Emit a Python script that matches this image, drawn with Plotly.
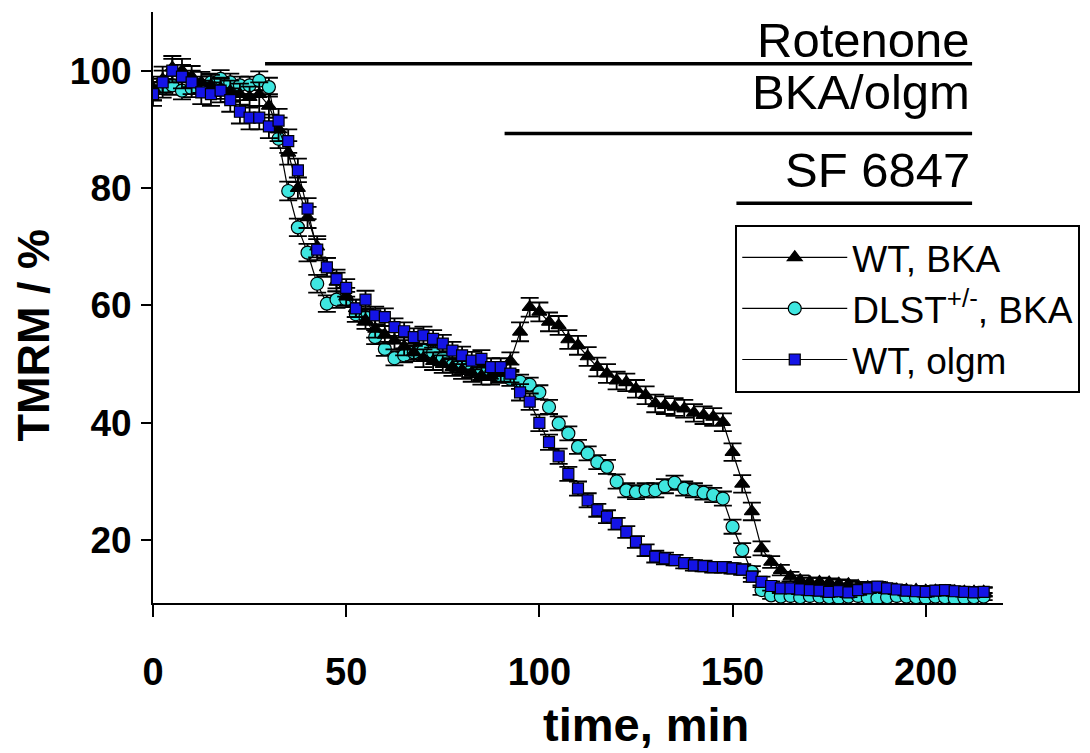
import plotly.graph_objects as go

# ---------------- data ----------------
time_min = [
    0.0, 2.5, 5.0, 7.5, 10.0, 12.5, 15.0, 17.5, 20.0, 22.5,
    25.0, 27.5, 30.0, 32.5, 35.0, 37.5, 40.0, 42.5, 45.0, 47.5,
    50.0, 52.5, 55.0, 57.5, 60.0, 62.5, 65.0, 67.5, 70.0, 72.5,
    75.0, 77.5, 80.0, 82.5, 85.0, 87.5, 90.0, 92.5, 95.0, 97.5,
    100.0, 102.5, 105.0, 107.5, 110.0, 112.5, 115.0, 117.5, 120.0, 122.5,
    125.0, 127.5, 130.0, 132.5, 135.0, 137.5, 140.0, 142.5, 145.0, 147.5,
    150.0, 152.5, 155.0, 157.5, 160.0, 162.5, 165.0, 167.5, 170.0, 172.5,
    175.0, 177.5, 180.0, 182.5, 185.0, 187.5, 190.0, 192.5, 195.0, 197.5,
    200.0, 202.5, 205.0, 207.5, 210.0, 212.5, 215.0,
]

wt_bka = [
    97.0, 98.5, 100.5, 100.0, 99.0, 98.0, 97.5, 97.0, 96.5, 96.0,
    95.5, 96.0, 94.0, 90.0, 86.0, 80.0, 75.0, 70.0, 66.5, 64.0,
    61.5, 59.5, 57.5, 56.0, 55.0, 54.0, 53.0, 52.0, 51.0, 50.5,
    50.0, 49.5, 49.0, 48.5, 48.0, 48.0, 48.5, 50.5, 55.5, 59.7,
    58.9, 57.2, 56.6, 54.2, 53.2, 51.3, 49.5, 48.4, 47.2, 46.9,
    45.8, 44.7, 43.3, 43.0, 42.7, 42.4, 41.7, 41.3, 41.0, 40.1,
    35.0, 29.6, 24.9, 18.6, 16.3, 14.9, 13.8, 13.2, 12.9, 12.9,
    12.8, 12.6, 12.5, 12.2, 12.0, 11.8, 11.8, 11.6, 11.5, 11.5,
    11.4, 11.4, 11.3, 11.3, 11.2, 11.2, 11.2,
]
wt_bka_err = [
    2.0, 2.2, 2.0, 2.0, 1.8, 1.8, 1.8, 1.8, 1.8, 1.8,
    1.8, 2.0, 2.0, 2.0, 2.0, 1.8, 1.8, 1.8, 1.6, 1.6,
    1.5, 1.5, 1.5, 1.5, 1.5, 1.5, 1.5, 1.5, 1.5, 1.5,
    1.5, 1.5, 1.5, 1.5, 1.5, 1.5, 1.5, 1.5, 1.6, 1.6,
    1.6, 1.6, 1.6, 1.6, 1.6, 1.6, 1.6, 1.6, 1.5, 1.5,
    1.5, 1.5, 1.5, 1.5, 1.5, 1.5, 1.5, 1.5, 1.5, 1.5,
    1.5, 1.5, 1.5, 1.2, 1.0, 0.9, 0.8, 0.8, 0.7, 0.7,
    0.7, 0.7, 0.7, 0.7, 0.7, 0.7, 0.7, 0.7, 0.7, 0.7,
    0.7, 0.7, 0.7, 0.7, 0.7, 0.7, 0.7,
]

dlst_bka = [
    96.5, 97.0, 97.5, 96.6, 97.0, 97.5, 98.0, 98.6, 98.0, 97.5,
    97.5, 98.3, 97.2, 88.4, 79.5, 73.3, 69.0, 63.7, 60.3, 61.0,
    61.0, 58.5, 58.0, 54.6, 52.6, 51.0, 51.5, 52.0, 52.3, 52.0,
    51.0, 49.8, 49.5, 49.0, 48.5, 48.5, 48.0, 47.5, 47.0, 46.5,
    45.2, 42.7, 39.9, 38.2, 35.9, 34.8, 33.3, 32.5, 30.0, 28.5,
    28.2, 28.5, 28.5, 29.2, 29.8, 28.8, 28.5, 28.1, 27.7, 27.1,
    22.3, 18.3, 14.6, 11.5, 10.6, 10.4, 10.5, 10.3, 10.5, 10.4,
    10.3, 10.2, 10.4, 10.5, 10.2, 10.1, 10.3, 10.5, 10.4, 10.3,
    10.2, 10.4, 10.3, 10.1, 10.2, 10.3, 10.4,
]
dlst_bka_err = [
    1.6, 1.6, 1.6, 1.5, 1.5, 1.5, 1.5, 1.5, 1.5, 1.5,
    1.5, 1.6, 1.6, 1.6, 1.6, 1.5, 1.5, 1.5, 1.4, 1.4,
    1.3, 1.3, 1.3, 1.2, 1.2, 1.2, 1.2, 1.2, 1.2, 1.2,
    1.2, 1.2, 1.2, 1.2, 1.2, 1.2, 1.2, 1.2, 1.2, 1.2,
    1.2, 1.2, 1.2, 1.2, 1.2, 1.2, 1.2, 1.2, 1.2, 1.2,
    1.2, 1.2, 1.2, 1.2, 1.2, 1.2, 1.2, 1.2, 1.2, 1.2,
    1.2, 1.2, 1.0, 0.8, 0.6, 0.6, 0.6, 0.6, 0.6, 0.6,
    0.6, 0.6, 0.6, 0.6, 0.6, 0.6, 0.6, 0.6, 0.6, 0.6,
    0.6, 0.6, 0.6, 0.6, 0.6, 0.6, 0.6,
]

wt_olgm = [
    96.0, 98.0, 100.0, 99.0, 98.0, 96.3, 96.0, 96.6, 95.0, 93.0,
    92.0, 92.0, 90.5, 91.5, 88.0, 83.0, 76.5, 69.5, 66.5, 64.5,
    63.0, 59.5, 61.0, 58.3, 58.0, 56.3, 55.6, 54.6, 54.9, 54.3,
    53.5, 52.3, 51.5, 50.6, 50.9, 49.5, 49.5, 48.4, 45.2, 43.6,
    40.0, 36.7, 34.3, 31.3, 28.8, 26.8, 25.1, 24.0, 22.8, 21.4,
    19.7, 18.3, 17.2, 16.9, 16.6, 16.1, 15.7, 15.6, 15.4, 15.4,
    15.2, 15.0, 13.8, 12.9, 12.2, 11.8, 11.8, 11.6, 11.5, 11.4,
    11.2, 11.3, 11.1, 11.5, 11.8, 12.1, 11.8, 11.6, 11.4, 11.3,
    11.2, 11.4, 11.5, 11.3, 11.2, 11.1, 11.2,
]
wt_olgm_err = [
    2.0, 2.0, 2.0, 2.0, 2.0, 2.0, 2.0, 2.0, 2.0, 2.0,
    2.0, 2.0, 2.0, 2.0, 2.0, 2.0, 1.8, 1.8, 1.6, 1.6,
    1.5, 1.5, 1.5, 1.5, 1.5, 1.5, 1.5, 1.5, 1.5, 1.5,
    1.5, 1.5, 1.5, 1.5, 1.5, 1.5, 1.5, 1.5, 1.4, 1.4,
    1.4, 1.3, 1.3, 1.2, 1.2, 1.2, 1.1, 1.1, 1.0, 1.0,
    1.0, 1.0, 1.0, 1.0, 0.9, 0.9, 0.9, 0.9, 0.9, 0.9,
    0.9, 0.9, 0.9, 0.9, 0.8, 0.8, 0.8, 0.8, 0.8, 0.8,
    0.8, 0.8, 0.8, 0.8, 0.8, 0.8, 0.8, 0.8, 0.8, 0.8,
    0.8, 0.8, 0.8, 0.8, 0.8, 0.8, 0.8,
]

x_ticks = [0, 50, 100, 150, 200]
y_ticks = [20, 40, 60, 80, 100]

# treatment bars: (label, start, end, line level, label level)
treat_labels = ["Rotenone", "BKA/olgm", "SF 6847"]
treat_start = [29, 91, 151]
treat_end = [212, 212, 212]
treat_line_y = [101.2, 89.3, 77.4]
treat_text_y = [105.2, 96.3, 83.0]

FONT = "Arial, 'Liberation Sans', sans-serif"

fig = go.Figure()

def add_series(name, y, err, symbol, color, size, rank):
    fig.add_trace(go.Scatter(
        x=time_min, y=y, name=name, mode="lines+markers",
        line=dict(color="black", width=1.2),
        marker=dict(symbol=symbol, color=color, size=size,
                    line=dict(color="black", width=1.2)),
        error_y=dict(type="data", array=err, visible=True,
                     color="black", thickness=1.8, width=9),
        legendrank=rank,
    ))

add_series("DLST<sup>+/-</sup>, BKA", dlst_bka, dlst_bka_err, "circle", "#3fe6e0", 13, 2)
add_series("WT, BKA", wt_bka, wt_bka_err, "triangle-up", "black", 13, 1)
add_series("WT, olgm", wt_olgm, wt_olgm_err, "square", "#1414e6", 11, 3)

shapes = []
annotations = []
for lab, s, e, ly, ty in zip(treat_labels, treat_start, treat_end, treat_line_y, treat_text_y):
    shapes.append(dict(type="line", xref="x", yref="y", x0=s, x1=e, y0=ly, y1=ly,
                       line=dict(color="black", width=3.5)))
    annotations.append(dict(text=lab, xref="x", yref="y", x=e, y=ty,
                            xanchor="right", yanchor="middle", showarrow=False,
                            font=dict(family=FONT, size=49, color="black")))

annotations.append(dict(text="<b>time, min</b>", xref="paper", yref="paper",
                        x=0.58, y=-0.205, xanchor="center", yanchor="middle",
                        showarrow=False, font=dict(family=FONT, size=47, color="black")))
annotations.append(dict(text="<b>TMRM / %</b>", xref="paper", yref="paper",
                        x=-0.141, y=0.453, xanchor="center", yanchor="middle",
                        textangle=-90, showarrow=False,
                        font=dict(family=FONT, size=45, color="black")))

# page body adds an 8px offset, so the figure is 8px smaller and margins shifted
fig.update_layout(
    width=1082, height=745, autosize=False,
    margin=dict(l=145, r=87, t=4, b=150),
    paper_bgcolor="white", plot_bgcolor="white",
    showlegend=True,
    legend=dict(x=0.685, y=0.64, xanchor="left", yanchor="top",
                bordercolor="black", borderwidth=2, bgcolor="white",
                font=dict(family=FONT, size=37, color="black"),
                itemwidth=105, tracegroupgap=0),
    shapes=shapes, annotations=annotations,
    font=dict(family=FONT, color="black"),
)
fig.update_xaxes(range=[0, 220], tickvals=x_ticks, ticktext=[f"<b>{v}</b>" for v in x_ticks],
                 ticks="outside", ticklen=12, tickwidth=2, tickcolor="black",
                 showline=True, linewidth=2, linecolor="black",
                 showgrid=False, zeroline=False, ticklabelstandoff=22,
                 tickfont=dict(family=FONT, size=38, color="black"))
fig.update_yaxes(range=[9.3, 110], tickvals=y_ticks, ticktext=[f"<b>{v}</b>" for v in y_ticks],
                 ticks="outside", ticklen=10, tickwidth=2, tickcolor="black",
                 showline=True, linewidth=2, linecolor="black",
                 showgrid=False, zeroline=False, ticklabelstandoff=2,
                 tickfont=dict(family=FONT, size=37, color="black"))

fig.write_html("out.html")
